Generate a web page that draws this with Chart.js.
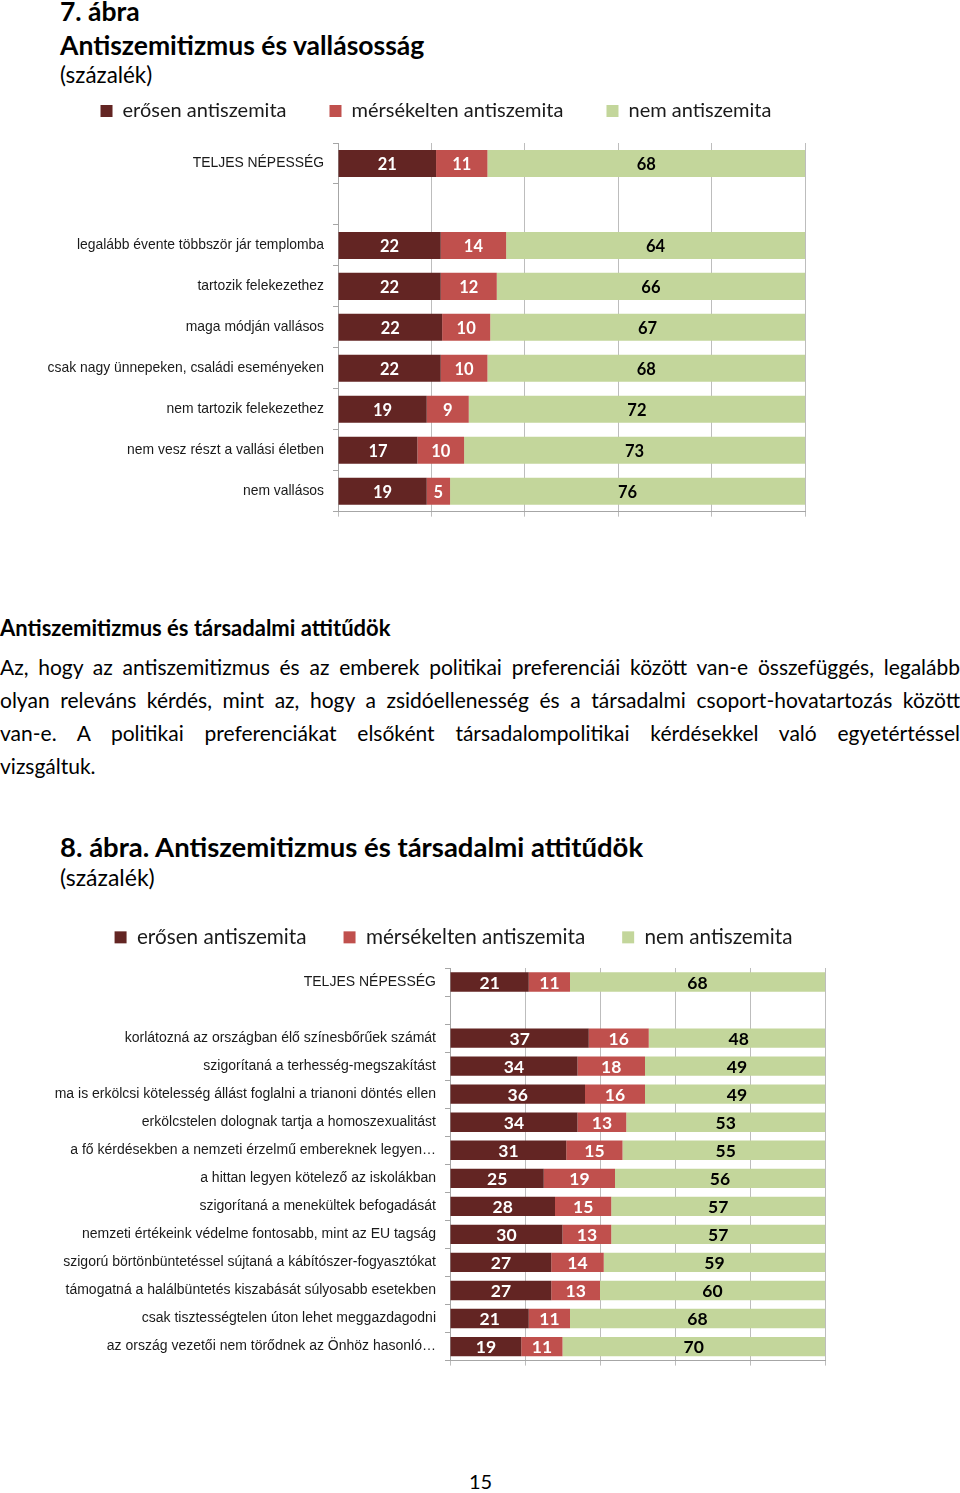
<!DOCTYPE html>
<html lang="hu">
<head>
<meta charset="utf-8">
<script src="https://cdn.jsdelivr.net/npm/chart.js@4.4.0/dist/chart.umd.min.js"></script>
<style>
    body { margin: 0; width: 960px; height: 1493px; position: relative; background: #fff; color: #000; font-family: Lato, "Open Sans", sans-serif; overflow: hidden; }
    .t { position: absolute; white-space: nowrap; line-height: 1; }
    .b { font-weight: bold; }
    .par { position: absolute; left: 0; top: 650px; width: 960px; font-size: 21px; line-height: 33px; }
    .par div { white-space: nowrap; text-align: justify; text-align-last: justify; }
    .par div.last { text-align-last: left; }
    .box { position: absolute; left: 0; }
</style>
</head>
<body>
<div class="t b" style="left:60px; top:-2px; font-size:26.5px;">7. ábra</div>
<div class="t b" style="left:60px; top:32px; font-size:26.5px;">Antiszemitizmus és vallásosság</div>
<div class="t" style="left:60px; top:64px; font-size:22.4px;">(százalék)</div>

<div class="box" style="top:58px; width:868px; height:471px;"><canvas id="religionChart"></canvas></div>

<div class="t b" style="left:0px; top:617px; font-size:22px;">Antiszemitizmus és társadalmi attitűdök</div>
<div class="par">
    <div>Az, hogy az antiszemitizmus és az emberek politikai preferenciái között van-e összefüggés, legalább</div>
    <div>olyan releváns kérdés, mint az, hogy a zsidóellenesség és a társadalmi csoport-hovatartozás között</div>
    <div>van-e. A politikai preferenciákat elsőként társadalompolitikai kérdésekkel való egyetértéssel</div>
    <div class="last">vizsgáltuk.</div>
</div>

<div class="t b" style="left:60px; top:833px; font-size:27.5px;">8. ábra. Antiszemitizmus és társadalmi attitűdök</div>
<div class="t" style="left:60px; top:866px; font-size:23px;">(százalék)</div>

<div class="box" style="top:890px; width:904px; height:488px;"><canvas id="attitudeChart"></canvas></div>

<div class="t" style="left:469px; top:1471px; font-size:20px;">15</div>

<script>
const seriesLabels = ['erősen antiszemita', 'mérsékelten antiszemita', 'nem antiszemita'];
const seriesColors = ['#632523', '#C0504D', '#C3D69B'];
const xTicks = [0, 20, 40, 60, 80, 100];

// 7. ábra
const religionCats = ['TELJES NÉPESSÉG', '', 'legalább évente többször jár templomba', 'tartozik felekezethez',
    'maga módján vallásos', 'csak nagy ünnepeken, családi eseményeken', 'nem tartozik felekezethez',
    'nem vesz részt a vallási életben', 'nem vallásos'];
const religionStrong = [21, null, 22, 22, 22.3, 22, 19, 17, 19];
const religionModerate = [11, null, 14, 12, 10.3, 10, 9, 10, 5];
const religionNot = [68, null, 64, 66, 67.4, 68, 72, 73, 76];

// 8. ábra
const attitudeCats = ['TELJES NÉPESSÉG', '', 'korlátozná az országban élő színesbőrűek számát',
    'szigorítaná a terhesség-megszakítást', 'ma is erkölcsi kötelesség állást foglalni a trianoni döntés ellen',
    'erkölcstelen dolognak tartja a homoszexualitást', 'a fő kérdésekben a nemzeti érzelmű embereknek legyen…',
    'a hittan legyen kötelező az iskolákban', 'szigorítaná a menekültek befogadását',
    'nemzeti értékeink védelme fontosabb, mint az EU tagság', 'szigorú börtönbüntetéssel sújtaná a kábítószer-fogyasztókat',
    'támogatná a halálbüntetés kiszabását súlyosabb esetekben', 'csak tisztességtelen úton lehet meggazdagodni',
    'az ország vezetői nem törődnek az Önhöz hasonló…'];
const attitudeStrong = [21, null, 37, 34, 36, 34, 31, 25, 28, 30, 27, 27, 21, 19];
const attitudeModerate = [11, null, 16, 18, 16, 13, 15, 19, 15, 13, 14, 13, 11, 11];
const attitudeNot = [68, null, 48, 49, 49, 53, 55, 56, 57, 57, 59, 60, 68, 70];

const narrowFont = '"Liberation Sans Narrow", "Arial Narrow", "Liberation Sans", sans-serif';

// numbers inside the bar segments
const barValueLabels = {
    id: 'barValueLabels',
    afterDatasetsDraw(chart, args, opts) {
        const ctx = chart.ctx;
        ctx.save();
        ctx.font = 'bold ' + opts.size + 'px Lato, sans-serif';
        ctx.textAlign = 'center';
        ctx.textBaseline = 'middle';
        chart.data.datasets.forEach((ds, i) => {
            chart.getDatasetMeta(i).data.forEach((bar, j) => {
                if (ds.data[j] == null) return;
                ctx.fillStyle = i === 2 ? '#000' : '#fff';
                ctx.fillText(Math.round(ds.data[j]), (bar.x + bar.base) / 2, bar.y + 1);
            });
        });
        ctx.restore();
    }
};

// fixed legend height and a sideways nudge, so legend and plot sit where they should
const legendPlace = {
    id: 'legendPlace',
    afterInit(chart, args, opts) {
        const fit = chart.legend.fit;
        chart.legend.fit = function() {
            fit.bind(chart.legend)();
            this.height = opts.height;
        };
    },
    afterLayout(chart, args, opts) {
        chart.legend.left += opts.shift;
        chart.legend.right += opts.shift;
    }
};

function makeDatasets(strong, moderate, not, barPct) {
    return [strong, moderate, not].map((data, i) => ({
        label: seriesLabels[i],
        data: data,
        backgroundColor: seriesColors[i],
        borderWidth: 0,
        barPercentage: barPct,
        categoryPercentage: 1
    }));
}

function renderStackedChart(id, cats, strong, moderate, not, cfg) {
    const ctx = document.getElementById(id).getContext('2d');
    new Chart(ctx, {
        type: 'bar',
        data: {
            labels: cats,
            datasets: makeDatasets(strong, moderate, not, cfg.barPct)
        },
        options: {
            indexAxis: 'y',
            responsive: true,
            maintainAspectRatio: false,
            animation: false,
            events: [],
            layout: { padding: { left: 0, right: cfg.padRight, top: 0, bottom: 0 } },
            scales: {
                x: {
                    stacked: true,
                    min: 0,
                    max: 100,
                    afterBuildTicks: scale => { scale.ticks = xTicks.map(v => ({ value: v })); },
                    ticks: { display: false },
                    grid: { color: '#bdbdbd', tickLength: 5, drawTicks: true },
                    border: { color: '#a6a6a6' }
                },
                y: {
                    stacked: true,
                    afterFit: scale => { scale.width = cfg.axisWidth; },
                    ticks: {
                        autoSkip: false,
                        padding: 9,
                        color: '#1a1a1a',
                        font: { family: narrowFont, size: cfg.catSize }
                    },
                    grid: { offset: true, drawOnChartArea: false, tickLength: 5, color: '#a6a6a6' },
                    border: { color: '#a6a6a6' }
                }
            },
            plugins: {
                legend: {
                    position: 'top',
                    labels: {
                        boxWidth: 12,
                        boxHeight: 12,
                        padding: cfg.legendPad,
                        color: '#1a1a1a',
                        font: { family: 'Lato, sans-serif', size: cfg.legendSize }
                    }
                },
                tooltip: { enabled: false },
                legendPlace: { height: cfg.legendHeight, shift: cfg.legendShift },
                barValueLabels: { size: cfg.valueSize }
            }
        },
        plugins: [legendPlace, barValueLabels]
    });
}

renderStackedChart('religionChart', religionCats, religionStrong, religionModerate, religionNot, {
    barPct: 0.66, padRight: 63, axisWidth: 338, catSize: 13.9,
    legendPad: 43, legendSize: 20, legendHeight: 85, legendShift: 33.5, valueSize: 16.5
});

renderStackedChart('attitudeChart', attitudeCats, attitudeStrong, attitudeModerate, attitudeNot, {
    barPct: 0.69, padRight: 79, axisWidth: 450, catSize: 14,
    legendPad: 37, legendSize: 20.7, legendHeight: 78, legendShift: 41, valueSize: 17.5
});
</script>
</body>
</html>
